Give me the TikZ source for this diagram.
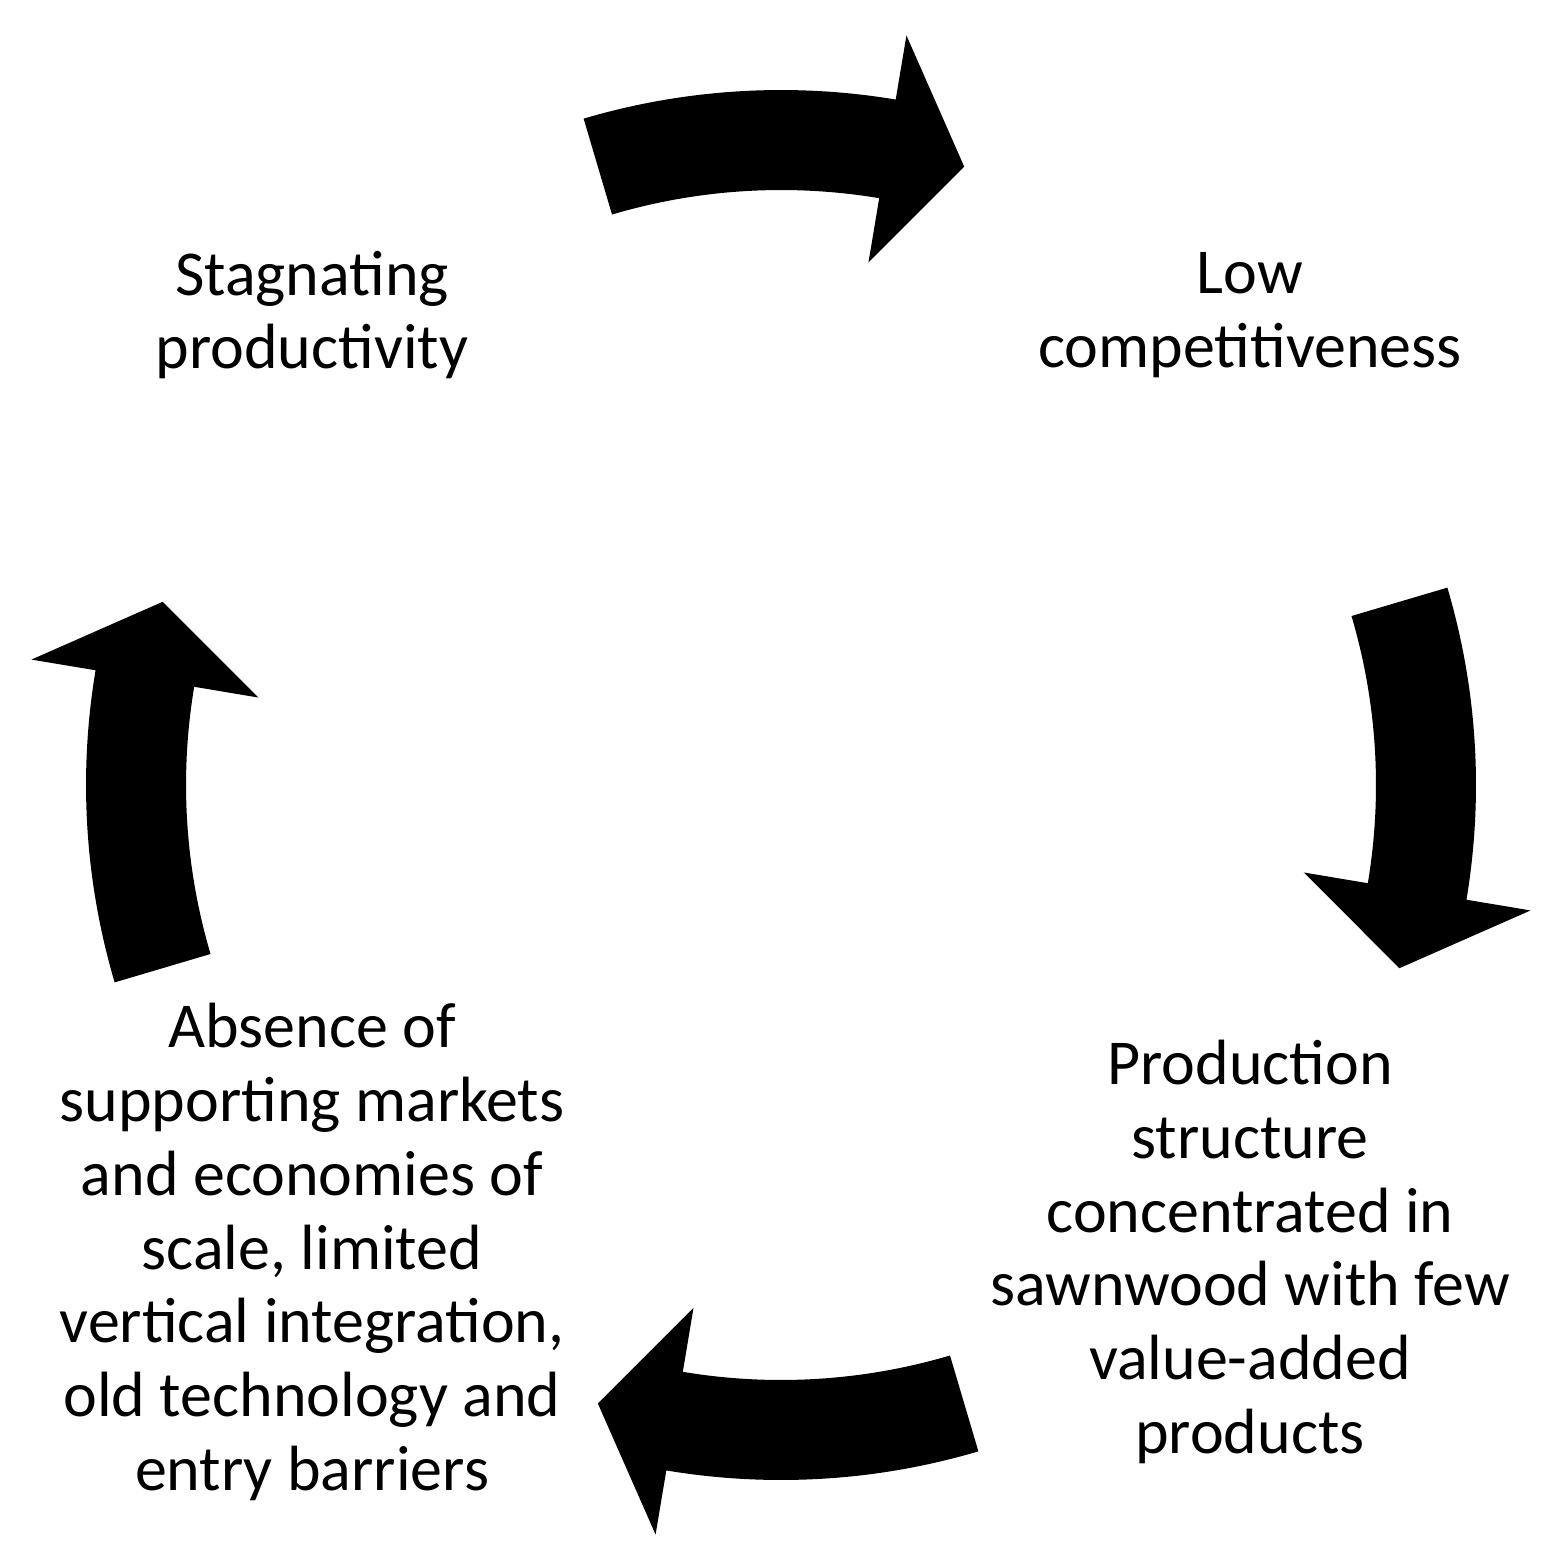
\documentclass[tikz,border=0pt]{standalone}
\usepackage{fontspec}
\setmainfont{Carlito}
\usetikzlibrary{positioning}
\tikzstyle{cycletext} = [align=center, font=\fontsize{18.2}{21}\selectfont, inner sep=0pt]
\tikzstyle{bigarrow} = [fill=black, draw=none]
\begin{document}
\begin{tikzpicture}

	\useasboundingbox (0,0) rectangle (15.42,-15.48);


% Texts

	\node (stagnating) [cycletext] at (3.12,-3.15) {Stagnating\\productivity};

	\node (lowcomp) [cycletext] at (12.5,-3.15) {Low\\competitiveness};

	\node (production) [cycletext] at (12.5,-12.52) {Production\\structure\\concentrated in\\sawnwood with few\\value-added\\products};

	\node (absence) [cycletext] at (3.12,-12.52) {Absence of\\supporting markets\\and economies of\\scale, limited\\vertical integration,\\old technology and\\entry barriers};


% Cycle arrows

	\coordinate (hub) at (7.81,-7.85);
	\begin{scope}[shift={(hub)}]
	\foreach \a in {106.5,16.5,-73.5,-163.5}
		\fill [bigarrow] (\a:5.95) arc[start angle=\a, end angle=\a-26, radius=5.95]
			-- (\a-26:5.3) -- (\a-33:6.45) -- (\a-26:7.6) -- (\a-26:6.95)
			arc[start angle=\a-26, end angle=\a, radius=6.95] -- cycle;
	\end{scope}

\end{tikzpicture}
\end{document}
